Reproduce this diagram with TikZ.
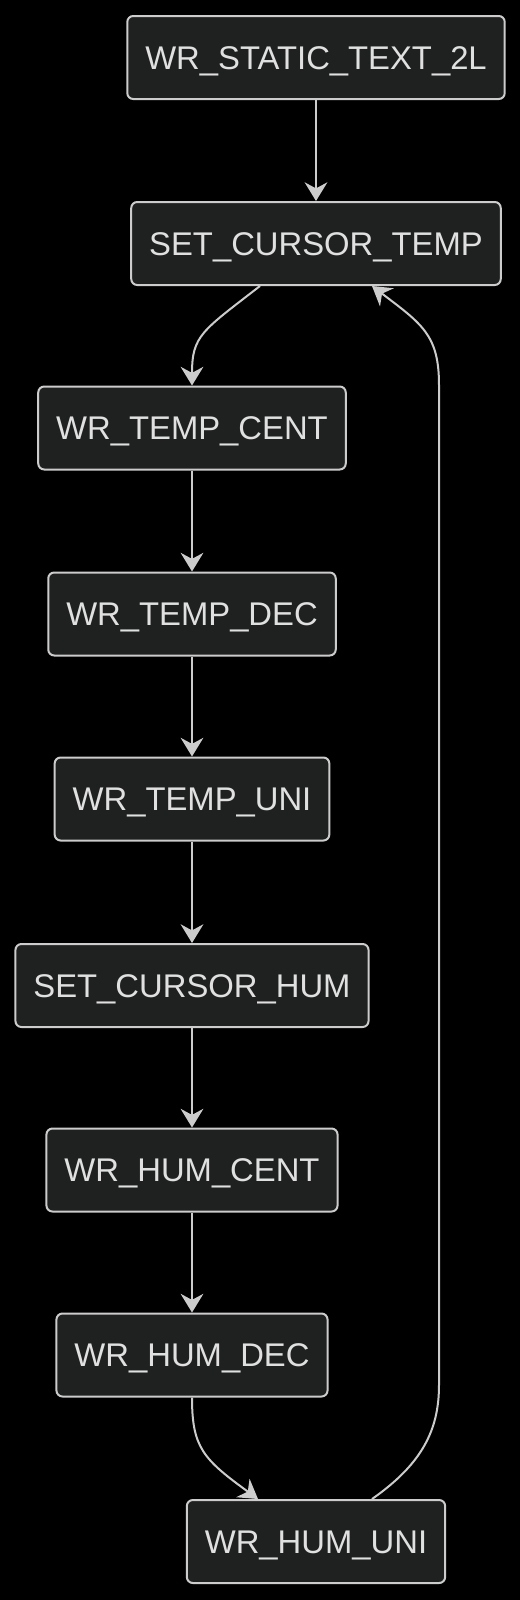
\documentclass[tikz,border=0pt]{standalone}
\usepackage{fontspec}
\setmainfont{Liberation Sans}
\usepackage{tikz}
\usetikzlibrary{
  arrows.meta,%
  calc,%
  positioning
}
\definecolor{boxfill}{RGB}{31,32,32}
\definecolor{boxline}{RGB}{204,204,204}
\definecolor{boxtext}{RGB}{224,224,224}
\tikzset{>={Stealth[length=14pt,width=17pt]}}
\tikzset{state/.style={draw=boxline, fill=boxfill, text=boxtext, line width=1.5pt,
    rounded corners=4.5pt, inner xsep=13.5pt, minimum height=62.25pt,
    text height=17.6pt, text depth=0pt, font=\fontsize{24.6pt}{28pt}\selectfont}}
\tikzset{edge/.style={->, draw=boxline, line width=1.5pt}}

\begin{document}
\begin{tikzpicture}[x=0.75pt, y=-0.75pt]
          \fill[black] (0,0) rectangle (520,1600);
          \useasboundingbox (0,0) rectangle (520,1600);
          \node[state] (static)  at (316,57.5)  {WR\_STATIC\_TEXT\_2L};
          \node[state] (curtemp) at (316,243.5) {SET\_CURSOR\_TEMP};
          \node[state] (tcent)   at (192,428)   {WR\_TEMP\_CENT};
          \node[state] (tdec)    at (192,614)   {WR\_TEMP\_DEC};
          \node[state] (tuni)    at (192,799)   {WR\_TEMP\_UNI};
          \node[state] (curhum)  at (192,985.5) {SET\_CURSOR\_HUM};
          \node[state] (hcent)   at (192,1170)  {WR\_HUM\_CENT};
          \node[state] (hdec)    at (192,1355)  {WR\_HUM\_DEC};
          \node[state] (huni)    at (316,1541.5) {WR\_HUM\_UNI};
          % bends of the edge going back up
          \coordinate (backlow)  at (439,1385);
          \coordinate (backhigh) at (439,385);
          \draw[edge] (static) -- (curtemp);
          \draw[edge] ([xshift=-42pt]curtemp.south) .. controls +(-58,45) and +(0,-50) .. (tcent.north);
          \draw[edge] (tcent) -- (tdec);
          \draw[edge] (tdec) -- (tuni);
          \draw[edge] (tuni) -- (curhum);
          \draw[edge] (curhum) -- (hcent);
          \draw[edge] (hcent) -- (hdec);
          \draw[edge] (hdec.south) .. controls +(0,50) and +(-55,-40) .. ([xshift=-43.5pt]huni.north);
          \draw[edge] ([xshift=42pt]huni.north) .. controls +(50,-35) and +(0,45) .. (backlow)
            -- (backhigh) .. controls +(0,-50) and +(50,38) .. ([xshift=42pt]curtemp.south);
        \end{tikzpicture}
\end{document}
